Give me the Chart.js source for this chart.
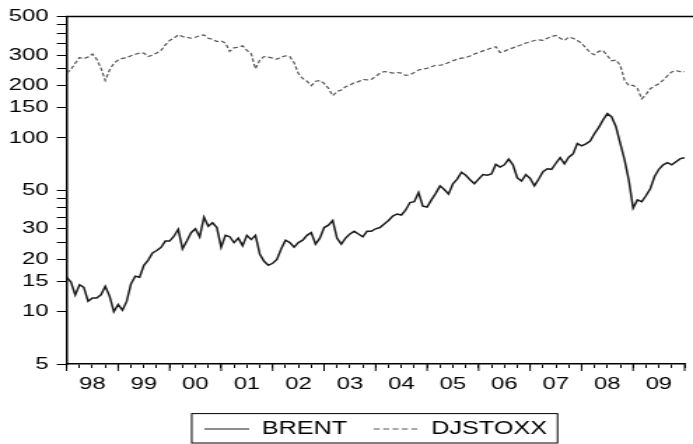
<!DOCTYPE html>
<html>
<head>
<meta charset="utf-8">
<script src="https://cdn.jsdelivr.net/npm/chart.js@4/dist/chart.umd.min.js"></script>
<style>
html,body{margin:0;padding:0;background:#fff;overflow:hidden;}
#wrap{position:absolute;left:0;top:0;width:495px;height:444px;transform:scaleX(1.4);transform-origin:0 0;}
</style>
</head>
<body>
<div id="wrap"><canvas id="c"></canvas></div>
<script>
// ---- data (monthly readings, Jan 1998 .. end of Dec 2009) ----
const startYear = 1998;
const endYear = 2010;
const yearLabels = ['98','99','00','01','02','03','04','05','06','07','08','09'];
const yLabelValues = [5,10,15,20,30,50,100,150,200,300,500];
const yMinorValues = [25,35,40,45,250,350,400,450];
const seriesNames = ['BRENT','DJSTOXX'];

const brent = [
  15.8,14.8,12.5,14.3,13.8,11.5,12.0,12.0,12.5,14.0,12.3,10.0,
  11.0,10.2,11.5,14.5,16.0,15.8,18.5,19.8,21.8,22.5,23.5,25.5,
  25.5,27.2,29.8,23.0,25.5,28.5,30.0,27.0,35.0,31.0,32.5,30.5,
  23.5,27.5,27.0,25.0,26.5,24.0,27.5,26.0,27.5,21.5,19.5,18.5,
  19.0,20.0,23.0,25.8,25.0,23.5,25.0,25.8,27.5,28.5,24.5,26.5,
  30.5,31.5,33.5,26.5,24.5,26.5,28.0,29.0,28.0,27.0,29.0,29.0,
  30.0,30.5,32.0,33.5,35.5,36.5,36.0,38.5,42.5,43.0,48.5,40.5,
  40.0,44.0,48.0,53.0,50.5,47.5,54.5,58.0,63.5,61.0,57.5,54.5,
  58.0,61.5,61.0,62.0,70.5,68.0,70.0,75.5,70.0,59.0,56.5,61.5,
  58.5,53.0,58.0,64.0,66.5,66.0,71.5,77.0,71.0,77.5,81.0,93.0,
  90.0,92.5,96.0,106,115,127,138,132,116,93,75,57,
  39.5,44,43,46.5,51,60,66,70,72,70,73,76,
  77
];
const djstoxx = [
  236,248,269,290,286,292,304,284,252,214,246,269,
  281,287,290,297,303,308,308,294,300,308,319,343,
  364,375,392,383,380,375,380,387,392,375,370,359,
  362,352,315,330,333,339,319,305,250,281,294,292,
  288,284,292,297,294,271,235,220,212,200,212,214,
  206,193,175,185,189,197,201,208,211,217,216,217,
  226,236,241,239,236,238,236,229,231,238,246,249,
  252,257,262,262,265,272,278,284,288,290,296,304,
  310,317,323,330,335,310,315,324,330,337,344,352,
  357,364,367,364,375,383,389,375,364,380,375,364,
  351,329,310,301,315,319,297,278,281,262,215,200,
  201,193,168,178,192,199,205,215,228,240,244,241,
  241
];

const toPoints = arr => arr.map((v, i) => ({x: startYear + i / 12, y: v}));
const FONT = 'Liberation Sans, Arial, sans-serif';
const legendDash = [4.3, 2.4];

const framePlugin = {
  id: 'frame',
  afterLayout(chart) {
    const lg = chart.legend, ca = chart.chartArea;
    if (lg) { lg.left = ca.left; lg.right = ca.right; lg.top += 4; lg.bottom += 4; }
  },
  afterDraw(chart) {
    const ctx = chart.ctx, ca = chart.chartArea, xs = chart.scales.x;
    ctx.save();
    ctx.strokeStyle = '#000';
    // top frame line
    ctx.lineWidth = 1.6;
    ctx.beginPath(); ctx.moveTo(ca.left - 0.75, ca.top); ctx.lineTo(chart.width, ca.top); ctx.stroke();
    // longer year ticks on the time axis
    ctx.lineWidth = 1;
    for (let y = startYear; y <= endYear; y++) {
      const px = xs.getPixelForValue(y);
      ctx.beginPath(); ctx.moveTo(px, ca.bottom); ctx.lineTo(px, ca.bottom + 7); ctx.stroke();
    }
    // legend frame
    const hb = chart.legend && chart.legend.legendHitBoxes;
    if (hb && hb.length) {
      const first = hb[0], last = hb[hb.length - 1];
      const cy = first.top + first.height / 2;
      const x0 = first.left - 9, x1 = last.left + last.width + 7.6;
      ctx.lineWidth = 1;
      ctx.strokeRect(x0, cy - 15.4, x1 - x0, 29.4);
    }
    ctx.restore();
  }
};

new Chart(document.getElementById('c'), {
  type: 'line',
  data: {
    datasets: [
      {label: seriesNames[0], data: toPoints(brent), borderColor: '#1a1a1a', borderWidth: 1.5,
       pointRadius: 0, tension: 0, fill: false},
      {label: seriesNames[1], data: toPoints(djstoxx), borderColor: '#555', borderWidth: 1.2,
       borderDash: [3.5, 2], pointRadius: 0, tension: 0, fill: false}
    ]
  },
  options: {
    responsive: true,
    maintainAspectRatio: false,
    animation: false,
    events: [],
    layout: {padding: {top: 16.5, left: 0, right: 0, bottom: 0}},
    scales: {
      x: {
        type: 'linear', min: startYear, max: endYear,
        afterBuildTicks: s => {
          const t = [];
          for (let q = 0; q <= (endYear - startYear) * 4; q++) t.push({value: startYear + q / 4});
          s.ticks = t;
        },
        afterFit: s => { s.height = 33; },
        grid: {drawOnChartArea: false, drawTicks: true, tickLength: 4, color: '#000', tickWidth: 1},
        border: {display: true, color: '#000', width: 1.6},
        ticks: {
          autoSkip: false, maxRotation: 0, minRotation: 0, padding: 6, color: '#000',
          font: {family: FONT, size: 17},
          callback: v => {
            const fr = v - Math.floor(v);
            return Math.abs(fr - 0.5) < 1e-6 ? yearLabels[Math.floor(v) - startYear] : '';
          }
        }
      },
      y: {
        type: 'logarithmic', min: 5, max: 500,
        afterBuildTicks: s => {
          s.ticks = yLabelValues.concat(yMinorValues).sort((a, b) => a - b).map(v => ({value: v}));
        },
        afterFit: s => { s.width = 47.6; },
        grid: {drawOnChartArea: false, drawTicks: true, tickLength: 7, color: '#000', tickWidth: 1},
        border: {display: true, color: '#000', width: 1.5},
        ticks: {
          autoSkip: false, padding: 6, color: '#000',
          font: {family: FONT, size: 17},
          callback: v => yLabelValues.includes(v) ? String(v) : ''
        }
      }
    },
    plugins: {
      tooltip: {enabled: false},
      legend: {
        display: true, position: 'bottom', align: 'center',
        labels: {
          usePointStyle: true, pointStyle: 'line', pointStyleWidth: 32, padding: 19,
          color: '#000', font: {family: FONT, size: 18},
          generateLabels: chart => chart.data.datasets.map((ds, i) => ({
            text: ds.label, datasetIndex: i, hidden: false, fontColor: '#000',
            strokeStyle: ds.borderColor, fillStyle: ds.borderColor, lineWidth: 1,
            lineDash: ds.borderDash ? legendDash : [], pointStyle: 'line'
          }))
        }
      }
    }
  },
  plugins: [framePlugin]
});
</script>
</body>
</html>
